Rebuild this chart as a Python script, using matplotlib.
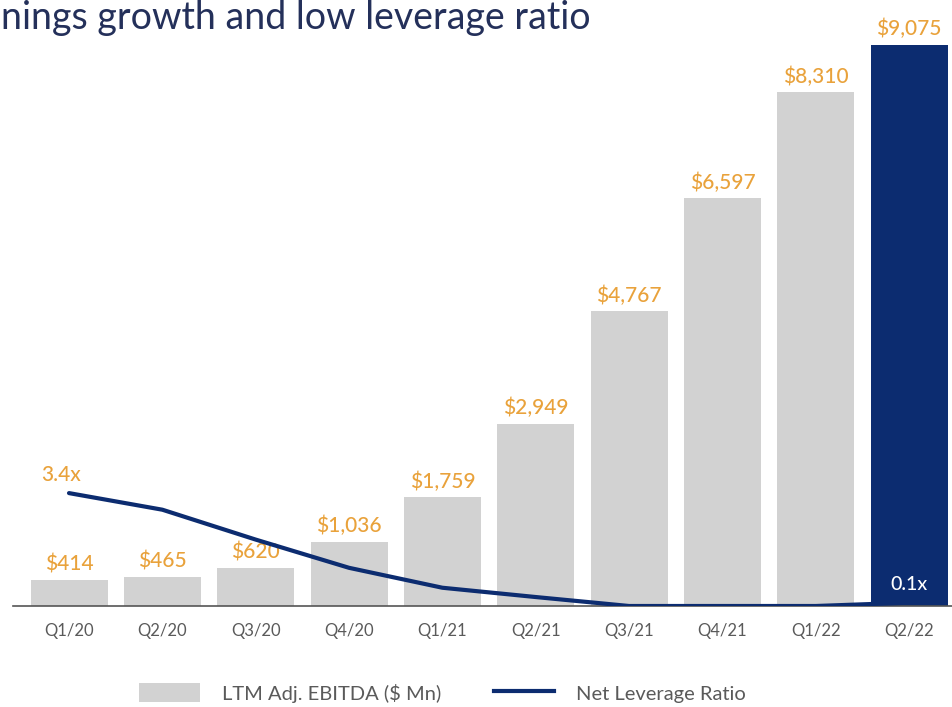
import numpy as np
import matplotlib
matplotlib.use("Agg")
import matplotlib.pyplot as plt
from matplotlib.patches import Patch
from matplotlib.lines import Line2D

# data
quarters = ["Q1/20", "Q2/20", "Q3/20", "Q4/20", "Q1/21", "Q2/21", "Q3/21", "Q4/21", "Q1/22", "Q2/22"]
ebitda = [414, 465, 620, 1036, 1759, 2949, 4767, 6597, 8310, 9075]
leverage = [3.4, 2.9, 2.0, 1.15, 0.55, 0.27, 0.0, 0.0, 0.0, 0.1]
ebitda_labels = ["$414", "$465", "$620", "$1,036", "$1,759", "$2,949", "$4,767", "$6,597", "$8,310", "$9,075"]

grey = "#D2D2D2"
navy = "#0C2C70"
orange = "#E9A23B"
tick_grey = "#5A5A5A"

plt.rcParams['font.family'] = ['Lato', 'DejaVu Sans']

fig = plt.figure(figsize=(9.52, 7.07), dpi=100)
ax = fig.add_axes([13/952, 101/707, 939/952, 606/707])

x = np.arange(len(quarters))
colors = [grey]*(len(quarters)-1) + [navy]
ax.bar(x, ebitda, width=0.825, color=colors, zorder=1)

for xi, v, lab in zip(x, ebitda, ebitda_labels):
    ax.annotate(lab, (xi, v), xytext=(0, 4), textcoords="offset points",
                ha="center", va="bottom", fontsize=15, color=orange, fontweight="medium")

ax.set_xlim(-0.60, 9.46)
ax.set_ylim(0, 9803)
ax.set_xticks(x)
ax.set_xticklabels(quarters, fontsize=12, color=tick_grey)
ax.tick_params(axis="x", length=0, pad=12)
ax.set_yticks([])
for s in ["left", "right", "top"]:
    ax.spines[s].set_visible(False)
ax.spines["bottom"].set_color("#555555")
ax.spines["bottom"].set_linewidth(1.2)
ax.set_facecolor("none")

# leverage ratio on its own scale
ax2 = ax.twinx()
ax2.set_ylim(0, 18.25)
ax2.plot(x, leverage, color=navy, lw=3, solid_capstyle="round", solid_joinstyle="round", zorder=3)
ax2.set_yticks([])
for s in ax2.spines.values():
    s.set_visible(False)
ax2.annotate("3.4x", (x[0], leverage[0]), xytext=(-6, 6), textcoords="offset points",
             ha="center", va="bottom", fontsize=15, color=orange, fontweight="medium")
ax2.annotate("0.1x", (x[-1], leverage[-1]), xytext=(0, 7), textcoords="offset points",
             ha="center", va="bottom", fontsize=14, color="white", fontweight="medium")

fig.text(0.001, 0.975, "nings growth and low leverage ratio", fontsize=27,
         color="#24305A", ha="left", va="center")

handles = [Patch(facecolor=grey, edgecolor="none", label="LTM Adj. EBITDA ($ Mn)"),
           Line2D([0], [0], color=navy, lw=3, label="Net Leverage Ratio")]
leg = fig.legend(handles=handles, loc="center", bbox_to_anchor=(0.465, 0.02), ncol=2,
                 frameon=False, fontsize=14.5, handlelength=3.0, handleheight=1.1,
                 columnspacing=2.6, handletextpad=1.1)
for t in leg.get_texts():
    t.set_color(tick_grey)

fig.savefig("out.png", dpi=100)
